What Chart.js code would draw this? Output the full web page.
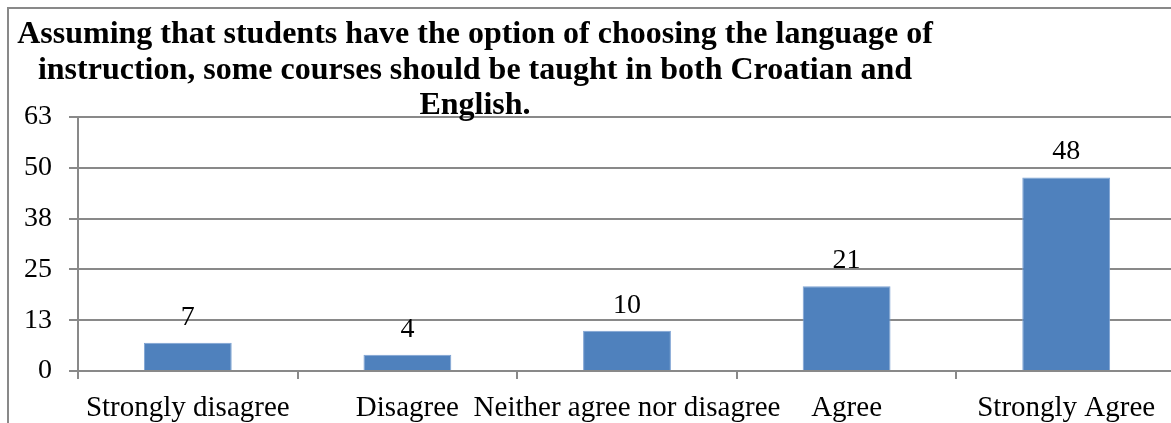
<!DOCTYPE html>
<html>
<head>
<meta charset="utf-8">
<script src="https://cdn.jsdelivr.net/npm/chart.js@4.4.1/dist/chart.umd.min.js"></script>
<style>
  html, body { margin: 0; padding: 0; background: #fff; overflow: hidden; }
  #wrap { position: relative; width: 1180px; height: 423px; }
</style>
</head>
<body>
<div id="wrap"><canvas id="chart"></canvas></div>
<script>
// Data
const categories = ['Strongly disagree', 'Disagree', 'Neither agree nor disagree', 'Agree', 'Strongly Agree'];
const counts = [7, 4, 10, 21, 48];
const titleLines = [
    'Assuming that students have the option of choosing the language of',
    'instruction, some courses should be taught in both Croatian and',
    'English.'
];
const yMax = 63;
const yStep = 12.6;

const AXIS_GRAY = '#898989';
const BAR_BLUE = '#4F81BD';
const SERIF = '"Liberation Serif", "Times New Roman", serif';

// frame + title, drawn like the office chart (title is off-centre)
const framePlugin = {
    id: 'frame',
    beforeDraw(chart) {
        const ctx = chart.ctx;
        ctx.save();
        ctx.strokeStyle = AXIS_GRAY;
        ctx.lineWidth = 2;
        ctx.beginPath();
        ctx.moveTo(8, chart.height);
        ctx.lineTo(8, 8);
        ctx.lineTo(chart.width, 8);
        ctx.stroke();
        ctx.restore();
    },
    afterDraw(chart) {
        const ctx = chart.ctx;
        ctx.save();
        ctx.fillStyle = '#000';
        ctx.font = 'bold 32px ' + SERIF;
        ctx.textAlign = 'center';
        ctx.textBaseline = 'alphabetic';
        for (let i = 0; i < titleLines.length; i++) {
            ctx.fillText(titleLines[i], 475, 43 + i * 35.5);
        }
        ctx.restore();
    }
};

// value labels over the bars
const valuePlugin = {
    id: 'values',
    afterDatasetsDraw(chart) {
        const ctx = chart.ctx;
        const meta = chart.getDatasetMeta(0);
        ctx.save();
        ctx.fillStyle = '#000';
        ctx.font = '28px ' + SERIF;
        ctx.textAlign = 'center';
        ctx.textBaseline = 'alphabetic';
        meta.data.forEach(function(bar, i) {
            ctx.fillText(String(counts[i]), bar.x, bar.y - 18);
        });
        ctx.restore();
    }
};

new Chart(document.getElementById('chart'), {
    type: 'bar',
    data: {
        labels: categories,
        datasets: [{
            data: counts,
            backgroundColor: BAR_BLUE,
            borderColor: '#7ea3d3',
            borderWidth: 1,
            categoryPercentage: 1,
            barPercentage: 0.4
        }]
    },
    options: {
        responsive: true,
        maintainAspectRatio: false,
        animation: false,
        devicePixelRatio: 1,
        layout: { padding: { top: 117, right: 4, left: 0, bottom: 0 } },
        plugins: {
            legend: { display: false },
            title: { display: false },
            tooltip: { enabled: false }
        },
        scales: {
            x: {
                afterFit(scale) { scale.height = 52; },
                grid: {
                    display: true,
                    drawOnChartArea: false,
                    drawTicks: true,
                    tickLength: 8,
                    color: AXIS_GRAY,
                    lineWidth: 2
                },
                border: { display: true, color: AXIS_GRAY, width: 2 },
                ticks: {
                    color: '#000',
                    font: { family: SERIF, size: 29 },
                    padding: 12,
                    maxRotation: 0,
                    autoSkip: false
                }
            },
            y: {
                min: 0,
                max: yMax,
                afterFit(scale) { scale.width = 78; },
                grid: {
                    color: AXIS_GRAY,
                    lineWidth: 2,
                    tickLength: 9
                },
                border: { display: true, color: AXIS_GRAY, width: 2 },
                ticks: {
                    stepSize: yStep,
                    color: '#000',
                    font: { family: SERIF, size: 28 },
                    padding: 17,
                    callback: function(v) { return Math.round(v); }
                }
            }
        }
    },
    plugins: [framePlugin, valuePlugin]
});
</script>
</body>
</html>
